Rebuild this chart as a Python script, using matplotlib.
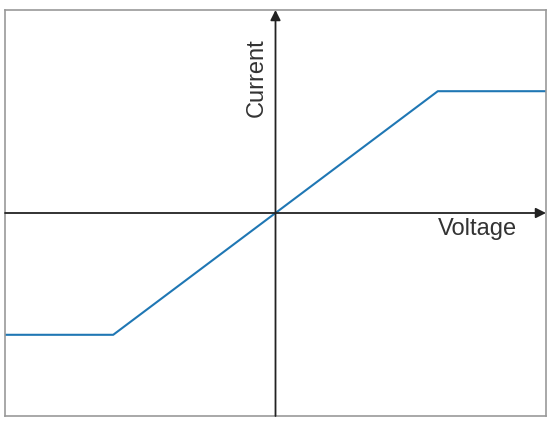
import matplotlib
matplotlib.use("Agg")
import matplotlib.pyplot as plt

voltage = [-1.0, -0.6, 0.6, 1.0]
current = [-0.6, -0.6, 0.6, 0.6]

plt.rcParams['font.family'] = ['Liberation Sans', 'DejaVu Sans']

fig = plt.figure(figsize=(5.52, 4.24), dpi=100)
ax = fig.add_axes([5/552, 8/424, 541/552, 406/424])
ax.set_xlim(-1, 1)
ax.set_ylim(-1, 1)
ax.set_xticks([])
ax.set_yticks([])
for s in ax.spines.values():
    s.set_color('#999999')
    s.set_linewidth(1.2)

ax.annotate('', xy=(1.0, 0), xytext=(-1.0, 0),
            arrowprops=dict(arrowstyle='-|>', color='#222222', lw=1.3, mutation_scale=15,
                            shrinkA=0, shrinkB=0))
ax.annotate('', xy=(0, 1.0), xytext=(0, -1.0),
            arrowprops=dict(arrowstyle='-|>', color='#222222', lw=1.3, mutation_scale=15,
                            shrinkA=0, shrinkB=0))

ax.plot(voltage, current, color='#1f77b4', lw=1.5)

ax.text(0.745, -0.08, 'Voltage', ha='center', va='center', fontsize=17, color='#333333')
ax.text(-0.068, 0.665, 'Current', ha='center', va='center', rotation=90, fontsize=17, color='#333333')

fig.savefig('out.png', dpi=100)
